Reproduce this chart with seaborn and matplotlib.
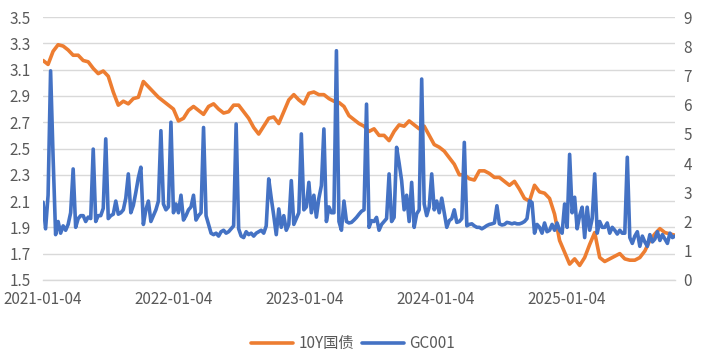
#%% imports
import pandas as pd
import matplotlib
matplotlib.use("Agg")
import matplotlib.pyplot as plt
import matplotlib.dates as mdates
import seaborn as sns

#%% data
start_date = "2021-01-04"

# 10Y government bond yield, every two weeks (left axis)
bond_10y = [
    3.17, 3.14, 3.24, 3.29, 3.28, 3.25, 3.21, 3.21, 3.17, 3.16,
    3.11, 3.07, 3.09, 3.05, 2.93, 2.83, 2.86, 2.84, 2.88, 2.89,
    3.01, 2.97, 2.93, 2.89, 2.86, 2.83, 2.80, 2.71, 2.73, 2.79,
    2.82, 2.79, 2.76, 2.82, 2.84, 2.80, 2.77, 2.78, 2.83, 2.83,
    2.78, 2.73, 2.66, 2.61, 2.67, 2.73, 2.74, 2.69, 2.78, 2.87,
    2.91, 2.87, 2.84, 2.92, 2.93, 2.91, 2.91, 2.88, 2.86, 2.85,
    2.82, 2.75, 2.72, 2.69, 2.67, 2.63, 2.65, 2.60, 2.60, 2.56,
    2.63, 2.68, 2.67, 2.71, 2.68, 2.65, 2.67, 2.60, 2.53, 2.51,
    2.48, 2.43, 2.38, 2.30, 2.30, 2.27, 2.26, 2.33, 2.33, 2.31,
    2.28, 2.28, 2.25, 2.22, 2.25, 2.19, 2.12, 2.10, 2.22, 2.17,
    2.16, 2.12, 2.00, 1.80, 1.71, 1.62, 1.66, 1.61, 1.67, 1.77,
    1.86, 1.67, 1.64, 1.66, 1.68, 1.70, 1.66, 1.65, 1.65, 1.67,
    1.72, 1.80, 1.85, 1.89, 1.86, 1.85, 1.84,
]

# GC001 repo rate, weekly (right axis)
gc001 = [
    2.66, 1.75, 2.90, 7.16, 4.20, 1.55, 2.00, 1.60, 1.85, 1.70,
    1.90, 2.30, 3.80, 1.80, 2.10, 2.20, 2.20, 2.00, 2.15, 2.10,
    4.48, 2.00, 2.20, 2.20, 2.45, 4.83, 2.10, 2.20, 2.25, 2.70,
    2.25, 2.30, 2.40, 2.80, 3.63, 2.30, 2.55, 3.00, 3.50, 3.86,
    1.90, 2.40, 2.70, 2.00, 2.20, 2.40, 2.70, 5.11, 2.60, 2.40,
    2.50, 5.40, 2.30, 2.60, 2.30, 2.90, 2.05, 2.20, 2.40, 2.50,
    2.90, 2.05, 2.20, 2.30, 5.22, 2.20, 1.90, 1.60, 1.55, 1.60,
    1.50, 1.65, 1.70, 1.60, 1.65, 1.75, 1.85, 5.34, 1.75, 1.50,
    1.45, 1.65, 1.55, 1.60, 1.50, 1.60, 1.65, 1.70, 1.60, 1.85,
    3.46, 2.80, 2.20, 1.55, 2.43, 1.80, 2.20, 1.70, 1.90, 3.40,
    1.90, 2.10, 2.30, 5.00, 2.40, 2.50, 3.34, 2.30, 2.90, 2.15,
    2.80, 3.23, 5.17, 2.00, 2.50, 2.30, 2.30, 7.85, 2.00, 1.70,
    2.70, 2.00, 1.95,
    1.97, 2.05, 2.14, 2.25, 2.35, 2.40, 6.02, 1.80, 2.03, 2.00,
    2.14, 1.70, 1.90, 2.00, 2.10, 3.63, 2.00, 2.14, 4.54, 4.00,
    3.40, 2.40, 2.90, 2.00, 3.34, 1.80, 2.26, 2.40, 6.88, 2.60,
    2.20, 2.50, 3.63, 2.40, 2.70, 2.30, 2.80, 2.30, 1.80, 2.03,
    2.10, 2.40, 1.97, 2.00, 2.10, 4.71, 1.85, 1.90, 1.92, 1.85,
    1.80, 1.80, 1.75, 1.80, 1.86, 1.90, 1.92, 1.95, 2.54, 1.92,
    1.88, 1.90, 1.97, 1.95, 1.92, 1.95, 1.92, 1.92, 1.95, 2.00,
    2.10, 2.71, 2.65, 1.60, 1.90, 1.80, 1.60, 1.95, 1.65, 1.70,
    1.90, 1.70, 1.95, 1.70, 1.60, 2.60, 1.80, 4.30, 2.30, 2.83,
    1.75, 2.20, 2.49, 1.45, 2.49, 1.70, 2.10, 3.63, 1.60, 2.00,
    1.80, 1.80, 1.95, 1.60, 1.80, 1.70, 1.57, 1.70, 1.60, 1.60,
    4.20, 1.45, 1.25, 1.50, 1.65, 1.15, 1.50, 1.30, 1.15, 1.55,
    1.30, 1.40, 1.65, 1.35, 1.55, 1.40, 1.25, 1.60, 1.45, 1.50,
]

tick_dates = ["2021-01-04", "2022-01-04", "2023-01-04", "2024-01-04", "2025-01-04"]
left_ticks = [1.5, 1.7, 1.9, 2.1, 2.3, 2.5, 2.7, 2.9, 3.1, 3.3, 3.5]
right_ticks = [0, 1, 2, 3, 4, 5, 6, 7, 8, 9]
series_names = ["10Y国债", "GC001"]

bond_dates = pd.date_range(start_date, periods=len(bond_10y), freq="14D")
gc_dates = pd.date_range(start_date, periods=len(gc001), freq="7D")

#%% plot
sns.set_style("white")
plt.rcParams["font.family"] = ["Noto Sans CJK SC", "DejaVu Sans"]

orange = "#ED7D31"
blue = "#4472C4"
grid_c = "#D9D9D9"
text_c = "#595959"

fig = plt.figure(figsize=(7.06, 3.57), dpi=100)
ax = fig.add_axes([0.061, 0.216, 0.895, 0.736])
ax2 = ax.twinx()

sns.lineplot(x=bond_dates, y=bond_10y, ax=ax, color=orange, linewidth=2.6)
sns.lineplot(x=gc_dates, y=gc001, ax=ax2, color=blue, linewidth=2.6)

ax.set_ylim(1.5, 3.5)
ax.set_yticks(left_ticks)
ax.set_yticklabels([f"{t:.1f}" for t in left_ticks])
ax2.set_ylim(0, 9)
ax2.set_yticks(right_ticks)

ax.set_xlim(bond_dates[0], gc_dates[-1])
ax.set_xticks(pd.to_datetime(tick_dates))
ax.xaxis.set_major_formatter(mdates.DateFormatter("%Y-%m-%d"))

ax.yaxis.grid(True, color=grid_c, linewidth=1)
ax.set_axisbelow(True)
for s in ["top", "left", "right"]:
    ax.spines[s].set_visible(False)
    ax2.spines[s].set_visible(False)
ax2.spines["bottom"].set_visible(False)
ax.spines["bottom"].set_color(grid_c)
ax.spines["bottom"].set_linewidth(1)

ax.tick_params(axis="y", length=0, pad=9, labelsize=11, labelcolor=text_c)
ax2.tick_params(axis="y", length=0, pad=6, labelsize=11, labelcolor=text_c)
ax.tick_params(axis="x", length=4, width=1, color=grid_c, pad=4,
               labelsize=11, labelcolor=text_c)
for a in (ax, ax2):
    a.set_xlabel("")
    a.set_ylabel("")

handles = [ax.get_lines()[0], ax2.get_lines()[0]]
fig.legend(handles, series_names, loc="lower center", bbox_to_anchor=(0.5, -0.025),
           ncol=2, frameon=False, fontsize=11, labelcolor=text_c,
           handlelength=2.75, handletextpad=0.35, columnspacing=0.5)

plt.savefig("out.png", dpi=100)
